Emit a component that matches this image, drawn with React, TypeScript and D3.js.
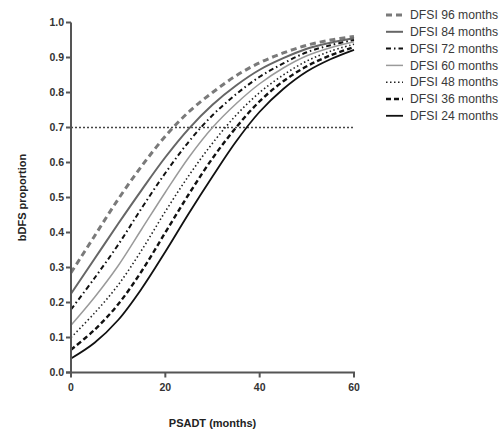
import React from "react";
import * as d3 from "d3";

const xValues = [0, 5, 10, 15, 20, 25, 30, 35, 40, 45, 50, 55, 60];
const seriesNames = [
  "DFSI 96 months",
  "DFSI 84 months",
  "DFSI 72 months",
  "DFSI 60 months",
  "DFSI 48 months",
  "DFSI 36 months",
  "DFSI 24 months",
];
const dfsi96 = [0.285, 0.39, 0.495, 0.59, 0.675, 0.745, 0.8, 0.848, 0.885, 0.913, 0.935, 0.95, 0.96];
const dfsi84 = [0.225, 0.325, 0.425, 0.522, 0.615, 0.697, 0.765, 0.82, 0.865, 0.898, 0.925, 0.942, 0.955];
const dfsi72 = [0.18, 0.27, 0.365, 0.47, 0.57, 0.66, 0.735, 0.795, 0.845, 0.883, 0.915, 0.935, 0.95];
const dfsi60 = [0.135, 0.215, 0.305, 0.41, 0.515, 0.615, 0.7, 0.768, 0.825, 0.87, 0.905, 0.928, 0.945];
const dfsi48 = [0.1, 0.17, 0.25, 0.35, 0.46, 0.563, 0.655, 0.735, 0.8, 0.85, 0.89, 0.918, 0.938];
const dfsi36 = [0.065, 0.122, 0.195, 0.29, 0.4, 0.51, 0.612, 0.7, 0.775, 0.832, 0.875, 0.906, 0.93];
const dfsi24 = [0.04, 0.085, 0.15, 0.24, 0.345, 0.455, 0.56, 0.66, 0.745, 0.81, 0.86, 0.895, 0.922];
const yTicks = [0, 0.1, 0.2, 0.3, 0.4, 0.5, 0.6, 0.7, 0.8, 0.9, 1.0];
const xTicks = [0, 20, 40, 60];
const refLevel = 0.7;

const styles = [
  { stroke: "#7a7a7a", width: 3, dash: "6,4" },
  { stroke: "#666", width: 2, dash: "" },
  { stroke: "#111", width: 2, dash: "5,3,1.5,3" },
  { stroke: "#9a9a9a", width: 1.5, dash: "" },
  { stroke: "#222", width: 1.6, dash: "1.5,2.5" },
  { stroke: "#111", width: 2.4, dash: "5,3" },
  { stroke: "#111", width: 1.8, dash: "" },
];

export default function App() {
  const allSeries = [dfsi96, dfsi84, dfsi72, dfsi60, dfsi48, dfsi36, dfsi24];
  const x = d3.scaleLinear().domain([0, 60]).range([71, 354]);
  const y = d3.scaleLinear().domain([0, 1]).range([372.5, 22.5]);
  const line = d3
    .line<number>()
    .x((_, i) => x(xValues[i]))
    .y((d) => y(d))
    .curve(d3.curveCatmullRom.alpha(0.5));
  const font = "'Liberation Sans', Arial, sans-serif";
  return (
    <svg
      width={500}
      height={436}
      style={{ position: "absolute", left: 0, top: 0, background: "#fff" }}
      fontFamily={font}
    >
      <rect width={500} height={436} fill="#fff" />
      <line
        x1={x(0)}
        x2={x(60)}
        y1={y(refLevel)}
        y2={y(refLevel)}
        stroke="#444"
        strokeWidth={1.5}
        strokeDasharray="2,2"
      />
      {allSeries.map((s, i) => (
        <path
          key={i}
          d={line(s) || ""}
          fill="none"
          stroke={styles[i].stroke}
          strokeWidth={styles[i].width}
          strokeDasharray={styles[i].dash}
        />
      ))}
      <line x1={x(0)} x2={x(0)} y1={y(0) + 1} y2={y(1)} stroke="#555" strokeWidth={2} />
      {yTicks.map((t) => (
        <g key={t}>
          <line x1={x(0) - 5} x2={x(0)} y1={y(t)} y2={y(t)} stroke="#555" strokeWidth={2} />
          <text
            x={x(0) - 7}
            y={y(t)}
            dy="0.35em"
            textAnchor="end"
            fontSize={10.5}
            fontWeight="bold"
            fill="#333"
          >
            {t.toFixed(1)}
          </text>
        </g>
      ))}
      <line x1={x(0) - 5} x2={x(60) + 1} y1={y(0)} y2={y(0)} stroke="#555" strokeWidth={2} />
      {xTicks.map((t) => (
        <g key={t}>
          <line x1={x(t)} x2={x(t)} y1={y(0)} y2={y(0) + 5} stroke="#555" strokeWidth={2} />
          <text
            x={x(t)}
            y={y(0) + 18}
            textAnchor="middle"
            fontSize={10.5}
            fontWeight="bold"
            fill="#333"
          >
            {t}
          </text>
        </g>
      ))}
      <text
        transform={`translate(26,${(y(0) + y(1)) / 2}) rotate(-90)`}
        textAnchor="middle"
        fontSize={11}
        fontWeight="bold"
        fill="#222"
      >
        bDFS proportion
      </text>
      <text
        x={(x(0) + x(60)) / 2}
        y={427}
        textAnchor="middle"
        fontSize={11}
        fontWeight="bold"
        fill="#222"
      >
        PSADT (months)
      </text>
      {seriesNames.map((n, i) => {
        const ly = 15 + i * 16.8;
        return (
          <g key={n}>
            <line
              x1={386}
              x2={403}
              y1={ly}
              y2={ly}
              stroke={styles[i].stroke}
              strokeWidth={styles[i].width}
              strokeDasharray={styles[i].dash}
            />
            <text x={410} y={ly} dy="0.35em" fontSize={12.2} fill="#3a3a3a">
              {n}
            </text>
          </g>
        );
      })}
    </svg>
  );
}
